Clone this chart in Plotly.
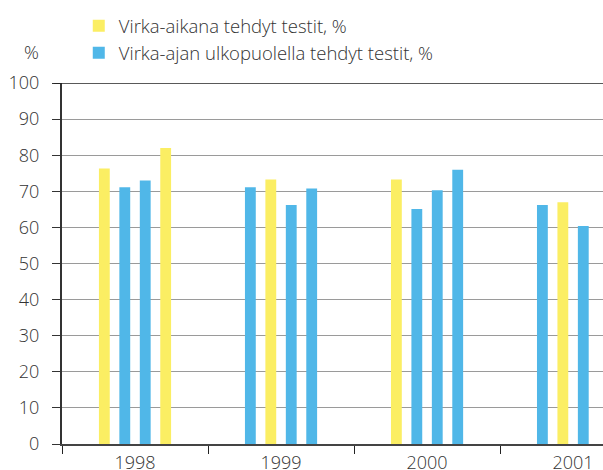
import plotly.graph_objects as go

years = ["1998", "1999", "2000", "2001"]
# four tests per year (one bar each), values in %
test1 = [76.3, 71.1, 73.3, 66.2]
test2 = [71.1, 73.3, 65.1, 67.0]
test3 = [73.0, 66.2, 70.3, 60.4]
test4 = [82.0, 70.8, 76.0, None]
# V = Virka-aikana, U = Virka-ajan ulkopuolella
type1 = ["V", "U", "V", "U"]
type2 = ["U", "V", "U", "V"]
type3 = ["U", "U", "U", "U"]
type4 = ["V", "U", "U", "U"]

series_names = {"V": "Virka-aikana tehdyt testit, %",
                "U": "Virka-ajan ulkopuolella tehdyt testit, %"}
colors = {"V": "#FBEE63", "U": "#50B7E8"}

FONT = "Open Sans, Roboto, Arial, sans-serif"
TXT = "#333333"
F = dict(family=FONT, size=18, color=TXT, weight=300)
FL = dict(family=FONT, size=18.5, color=TXT, weight=300)

fig = go.Figure()
for vals, types in [(test1, type1), (test2, type2), (test3, type3), (test4, type4)]:
    fig.add_trace(go.Bar(x=years, y=vals, marker_color=[colors[t] for t in types],
                         marker_line_width=0, showlegend=False, hoverinfo="x+y"))

for key in ["V", "U"]:
    fig.add_trace(go.Scatter(x=[None], y=[None], mode="markers", name=series_names[key],
                             marker=dict(symbol="square", size=11, color=colors[key])))

fig.update_layout(
    width=603, height=470,
    margin=dict(l=62, r=0, t=83, b=26, autoexpand=False),
    paper_bgcolor="white", plot_bgcolor="white",
    barmode="group", bargap=0.44, bargroupgap=0.47,
    font=F,
    showlegend=True,
    legend=dict(x=0.031, y=1.21, xanchor="left", yanchor="top", xref="paper", yref="paper",
                bgcolor="rgba(0,0,0,0)", font=FL, itemsizing="constant"),
    xaxis=dict(type="category", range=[-0.5, 3.205], showgrid=False, automargin=False,
               showline=True, linecolor="#444", linewidth=1.5, mirror=False,
               ticks="outside", tickson="boundaries", ticklen=8, tickcolor="#222", tickwidth=1.2,
               ticklabelstandoff=2, tickfont=F),
    yaxis=dict(range=[0, 100], dtick=10, showgrid=True, gridcolor="#9a9a9a", gridwidth=1,
               automargin=False,
               showline=True, linecolor="#333", linewidth=2.2, zeroline=False,
               ticks="outside", ticklen=8, tickcolor="#333", tickwidth=1.2,
               ticklabelstandoff=9,
               tickfont=F),
    annotations=[dict(text="%", xref="paper", yref="paper", x=-0.057, y=1.088,
                      xanchor="center", yanchor="middle", showarrow=False,
                      font=FL)],
    shapes=[dict(type="line", xref="paper", yref="y", x0=-0.015, x1=1, y0=100, y1=100,
                 line=dict(color="#222", width=1.5))],
)

fig.write_html("out.html", config={"displayModeBar": False},
               post_script="document.body.style.margin='0';document.body.style.padding='0';")
